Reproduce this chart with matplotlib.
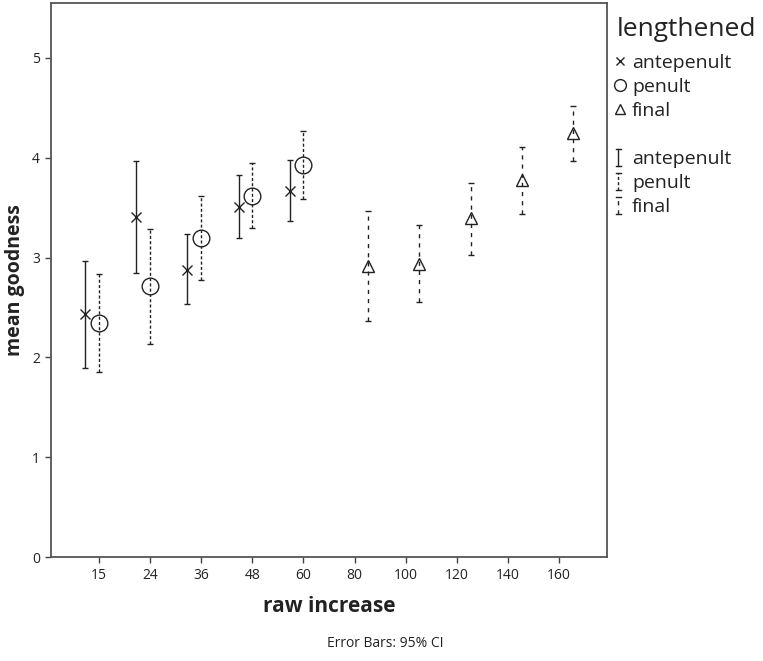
import matplotlib.pyplot as plt
from matplotlib.lines import Line2D
from matplotlib.legend_handler import HandlerBase

plt.rcParams['font.family'] = ['Open Sans', 'DejaVu Sans']

categories = ['15', '24', '36', '48', '60', '80', '100', '120', '140', '160']

# antepenult: first five categories
ante_mean = [2.43, 3.41, 2.88, 3.51, 3.67]
ante_lo = [1.89, 2.85, 2.53, 3.20, 3.37]
ante_hi = [2.97, 3.97, 3.24, 3.83, 3.98]

# penult: first five categories
pen_mean = [2.34, 2.71, 3.20, 3.62, 3.93]
pen_lo = [1.85, 2.13, 2.77, 3.30, 3.59]
pen_hi = [2.84, 3.29, 3.62, 3.95, 4.27]

# final: last five categories
fin_mean = [2.92, 2.94, 3.40, 3.78, 4.25]
fin_lo = [2.36, 2.55, 3.03, 3.44, 3.97]
fin_hi = [3.47, 3.33, 3.75, 4.11, 4.52]

groups = ['antepenult', 'penult', 'final']

ink = '#222222'
ls_ante = '-'
ls_pen = (0, (2.2, 1.6))
ls_fin = (0, (3.0, 3.6))


class BarHandler(HandlerBase):
    def __init__(self, ls):
        super().__init__()
        self.ls = ls

    def create_artists(self, legend, orig_handle, xdescent, ydescent,
                       width, height, fontsize, trans):
        xc = width * 0.3
        y0, y1 = -0.15 * height, 1.1 * height
        cap = 1.8
        arts = [
            Line2D([xc, xc], [y0, y1], color=ink, lw=1.0, linestyle=self.ls,
                   dash_capstyle='butt'),
            Line2D([xc - cap, xc + cap], [y0, y0], color=ink, lw=1.0),
            Line2D([xc - cap, xc + cap], [y1, y1], color=ink, lw=1.0),
        ]
        for a in arts:
            a.set_transform(trans)
        return arts


def draw_group(ax, xs, mean, lo, hi, marker, msize, ls):
    err = [[m - l for m, l in zip(mean, lo)], [h - m for m, h in zip(mean, hi)]]
    eb = ax.errorbar(xs, mean, yerr=err, fmt='none', ecolor=ink, elinewidth=1.0,
                     capsize=2.5, capthick=1.0, zorder=2)
    eb[2][0].set_linestyle(ls)
    ax.plot(xs, mean, linestyle='none', marker=marker, markersize=msize,
            markerfacecolor='none', markeredgecolor=ink, markeredgewidth=1.0,
            zorder=3)


fig = plt.figure(figsize=(7.63, 6.61), dpi=100)
ax = fig.add_axes([0.0668, 0.1573, 0.7287, 0.8382])

idx = list(range(len(categories)))
draw_group(ax, [i - 0.27 for i in idx[:5]], ante_mean, ante_lo, ante_hi, 'x', 7, ls_ante)
draw_group(ax, [i for i in idx[:5]], pen_mean, pen_lo, pen_hi, 'o', 12, ls_pen)
draw_group(ax, [i + 0.27 for i in idx[5:]], fin_mean, fin_lo, fin_hi, '^', 9, ls_fin)

ax.set_xlim(-0.94, 9.94)
ax.set_ylim(0, 5.55)
ax.set_xticks(idx)
ax.set_xticklabels(categories)
ax.set_yticks([0, 1, 2, 3, 4, 5])
ax.tick_params(labelsize=10, length=4.5, width=1.0, color='#444444', labelcolor=ink)
for s in ax.spines.values():
    s.set_color('#555555')
    s.set_linewidth(1.3)

ax.set_xlabel('raw increase', fontsize=15, fontweight='bold', color=ink, labelpad=9)
ax.set_ylabel('mean goodness', fontsize=14, fontweight='bold', color=ink, labelpad=5)
fig.text(0.505, 0.027, 'Error Bars: 95% CI', ha='center', va='center', fontsize=10, color=ink)

# legend title drawn on its own so it can sit apart from the entries
fig.text(0.8087, 0.955, 'lengthened', ha='left', va='center', fontsize=19, color=ink)

marker_handles = [
    Line2D([], [], linestyle='none', marker='x', markersize=6, markeredgecolor=ink, markeredgewidth=1.0),
    Line2D([], [], linestyle='none', marker='o', markersize=8.5, markerfacecolor='none', markeredgecolor=ink, markeredgewidth=1.0),
    Line2D([], [], linestyle='none', marker='^', markersize=7, markerfacecolor='none', markeredgecolor=ink, markeredgewidth=1.0),
]
spacer = Line2D([], [], linestyle='none')
bar_handles = [Line2D([], []), Line2D([], []), Line2D([], [])]
handles = marker_handles + [spacer] + bar_handles
labels = groups + [''] + groups
hmap = {bar_handles[0]: BarHandler(ls_ante),
        bar_handles[1]: BarHandler(ls_pen),
        bar_handles[2]: BarHandler(ls_fin)}

leg = fig.legend(handles, labels, handler_map=hmap,
                 loc='upper left', bbox_to_anchor=(0.8054, 0.9183), frameon=False,
                 fontsize=14, handlelength=0.6, handletextpad=0.3,
                 labelspacing=0.31, borderaxespad=0, borderpad=0)
for t in leg.get_texts():
    t.set_color(ink)

fig.savefig('out.png', dpi=100, facecolor='white')
